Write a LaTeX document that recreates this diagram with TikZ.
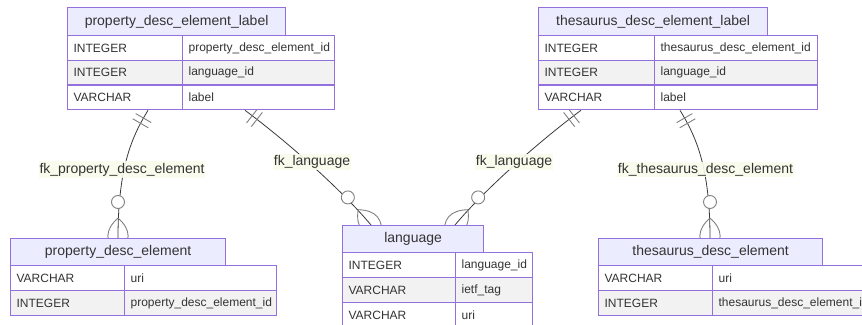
\documentclass[tikz,border=0pt]{standalone}
\usepackage{fontspec}
\setmainfont{Liberation Sans}
\definecolor{border}{HTML}{9370DB}
\definecolor{hdr}{HTML}{ECECFF}
\definecolor{alt}{HTML}{F2F2F2}
\definecolor{txt}{HTML}{333333}
\definecolor{lineC}{HTML}{3A3A3A}
\definecolor{mkC}{HTML}{808080}
\definecolor{lbl}{HTML}{F8FCEA}
\pgfdeclarelayer{bg}
\pgfsetlayers{bg,main}
\tikzset{
  head/.style={draw=border, fill=hdr, line width=1.2pt, anchor=north west, inner sep=0pt,
    font=\fontsize{14}{16}\selectfont, text=txt},
  cell/.style={draw=border, fill=white, line width=1.2pt, anchor=north west, inner xsep=6pt, inner ysep=0pt,
    minimum height=24.8pt, font=\fontsize{12}{14}\selectfont, text=txt, align=left},
  altcell/.style={cell, fill=alt},
  rel/.style={draw=lineC, line width=0.8pt},
  mk/.style={draw=mkC, line width=0.9pt},
  lab/.style={fill=lbl, fill opacity=0.9, text opacity=1, text=txt, inner xsep=1pt, inner ysep=1.5pt,
    font=\fontsize{14}{16}\selectfont},
  onlyone/.pic={\draw[mk] (9,-9) -- (9,9) (15,-9) -- (15,9);},
  zeromany/.pic={\draw[mk] (20,0) .. controls (8,13.5) and (-4,13.5) .. (-16,0)
      .. controls (-4,-13.5) and (8,-13.5) .. (20,0);
    \draw[mk, fill=white] (36,0) circle (6.5);},
}
\begin{document}
\begin{tikzpicture}[x=1pt,y=-1pt]
\useasboundingbox (0,0) rectangle (862,324);
\clip (0,0) rectangle (862,324);

% property_desc_element_label
\node[head, minimum width=218pt, minimum height=28pt] (pdl) at (67,7) {property\_desc\_element\_label};
\node[cell, text width=103pt] (pdl-t1) at (67,35) {INTEGER};
\node[cell, text width=140pt] (pdl-n1) at (182,35) {property\_desc\_element\_id};
\node[altcell, text width=103pt] (pdl-t2) at (67,59.7) {INTEGER};
\node[altcell, text width=140pt] (pdl-n2) at (182,59.7) {language\_id};
\node[cell, text width=103pt] (pdl-t3) at (67,84.3) {VARCHAR};
\node[cell, text width=140pt] (pdl-n3) at (182,84.3) {label};

% thesaurus_desc_element_label
\node[head, minimum width=229pt, minimum height=28pt] (tdl) at (538,7) {thesaurus\_desc\_element\_label};
\node[cell, text width=104pt] (tdl-t1) at (538,35) {INTEGER};
\node[cell, text width=151pt] (tdl-n1) at (654,35) {thesaurus\_desc\_element\_id};
\node[altcell, text width=104pt] (tdl-t2) at (538,59.7) {INTEGER};
\node[altcell, text width=151pt] (tdl-n2) at (654,59.7) {language\_id};
\node[cell, text width=104pt] (tdl-t3) at (538,84.3) {VARCHAR};
\node[cell, text width=151pt] (tdl-n3) at (654,84.3) {label};

% property_desc_element
\node[head, minimum width=215pt, minimum height=27pt] (pde) at (10,238) {property\_desc\_element};
\node[cell, text width=102pt, minimum height=25pt] (pde-t1) at (10,265) {VARCHAR};
\node[cell, text width=140pt, minimum height=25pt] (pde-n1) at (124,265) {uri};
\node[altcell, text width=102pt, minimum height=25pt] (pde-t2) at (10,290) {INTEGER};
\node[altcell, text width=140pt, minimum height=25pt] (pde-n2) at (124,290) {property\_desc\_element\_id};

% language
\node[head, minimum width=141pt, minimum height=27pt] (lang) at (342,225) {language};
\node[cell, text width=101pt, minimum height=25pt] (lang-t1) at (342,252) {INTEGER};
\node[cell, text width=65pt, minimum height=25pt] (lang-n1) at (455,252) {language\_id};
\node[altcell, text width=101pt, minimum height=25pt] (lang-t2) at (342,277) {VARCHAR};
\node[altcell, text width=65pt, minimum height=25pt] (lang-n2) at (455,277) {ietf\_tag};
\node[cell, text width=101pt, minimum height=25pt] (lang-t3) at (342,302) {VARCHAR};
\node[cell, text width=65pt, minimum height=25pt] (lang-n3) at (455,302) {uri};

% thesaurus_desc_element
\node[head, minimum width=224pt, minimum height=27pt] (tde) at (598,238) {thesaurus\_desc\_element};
\node[cell, text width=102pt, minimum height=25pt] (tde-t1) at (598,265) {VARCHAR};
\node[cell, text width=151pt, minimum height=25pt] (tde-n1) at (712,265) {uri};
\node[altcell, text width=102pt, minimum height=25pt] (tde-t2) at (598,290) {INTEGER};
\node[altcell, text width=151pt, minimum height=25pt] (tde-n2) at (712,290) {thesaurus\_desc\_element\_id};

% connector end points
\coordinate (s1) at ([xshift=81pt]pdl-t3.south west);
\coordinate (s2) at ([xshift=178pt]pdl-t3.south west);
\coordinate (s3) at ([xshift=43pt]tdl-t3.south west);
\coordinate (s4) at ([xshift=142pt]tdl-t3.south west);
\coordinate (e1) at ([xshift=108pt]pde.north west);
\coordinate (e2) at ([xshift=29pt]lang.north west);
\coordinate (e3) at ([xshift=113pt]lang.north west);
\coordinate (e4) at ([xshift=112pt]tde.north west);

\begin{pgfonlayer}{bg}
\draw[rel] (s1) .. controls (133,135) and (118,165) .. (e1);
\draw[rel] (s2) .. controls (285,140) and (340,188) .. (e2);
\draw[rel] (s3) .. controls (541,140) and (486,188) .. (e3);
\draw[rel] (s4) .. controls (695,135) and (710,165) .. (e4);
\pic[rotate=-120] at (s1) {onlyone};
\pic[rotate=-37.8] at (s2) {onlyone};
\pic[rotate=217.8] at (s3) {onlyone};
\pic[rotate=-60] at (s4) {onlyone};
\pic[rotate=90] at (e1) {zeromany};
\pic[rotate=130] at (e2) {zeromany};
\pic[rotate=50] at (e3) {zeromany};
\pic[rotate=90] at (e4) {zeromany};
\end{pgfonlayer}

\node[lab] (l1) at (122,169.5) {fk\_property\_desc\_element};
\node[lab] (l2) at (312,162) {fk\_language};
\node[lab] (l3) at (514,162) {fk\_language};
\node[lab] (l4) at (705.5,169.5) {fk\_thesaurus\_desc\_element};
\end{tikzpicture}
\end{document}
